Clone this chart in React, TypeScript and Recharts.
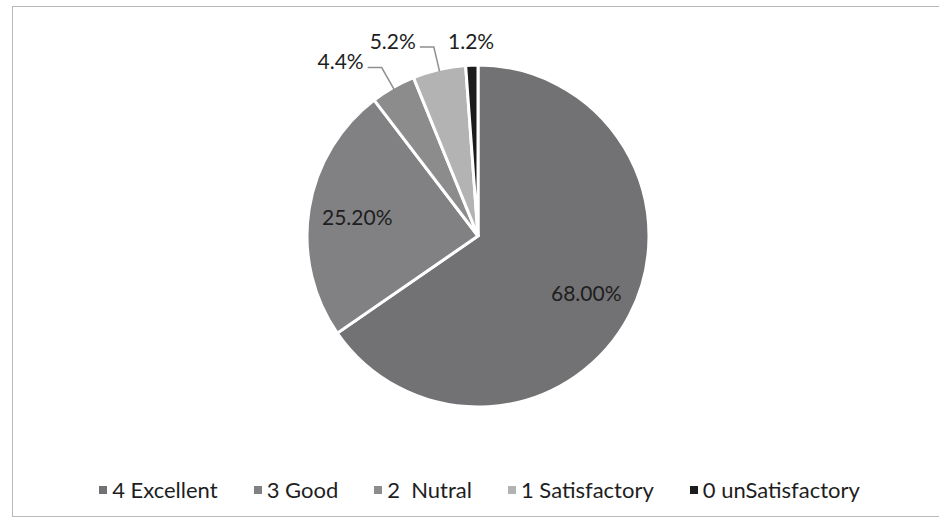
import React from 'react';
import { PieChart, Pie, Cell, Legend } from 'recharts';

const categories = ['4 Excellent', '3 Good', '2  Nutral', '1 Satisfactory', '0 unSatisfactory'];
const values = [68.0, 25.2, 4.4, 5.2, 1.2];
const valueLabels = ['68.00%', '25.20%', '4.4%', '5.2%', '1.2%'];
const colors = ['#727274', '#818183', '#8c8c8c', '#b3b3b3', '#1c1c1c'];
// label placement style per slice: inside / leader to the left / above without leader
const labelModes = ['inside', 'inside', 'leader', 'leader', 'above'];

const data = categories.map((name, i) => ({ name, value: values[i] }));

const RAD = Math.PI / 180;
const FONT = 'Lato, "Open Sans", sans-serif';

const renderLabel = (props: any) => {
  const { cx, cy, midAngle, outerRadius, index } = props;
  const mode = labelModes[index];
  const cos = Math.cos(-midAngle * RAD);
  const sin = Math.sin(-midAngle * RAD);
  const text = valueLabels[index];
  if (mode === 'inside') {
    const r = outerRadius * 0.715;
    return (
      <text x={cx + r * cos} y={cy + r * sin} textAnchor="middle" dominantBaseline="central"
        fill="#1e1e1e" fontSize={21} fontFamily={FONT}>{text}</text>
    );
  }
  if (mode === 'leader') {
    const sx = cx + (outerRadius - 2) * cos;
    const sy = cy + (outerRadius - 2) * sin;
    const ex = cx + (outerRadius + 23) * cos;
    const ey = cy + (outerRadius + 23) * sin;
    const hx = ex - 14;
    return (
      <g>
        <polyline points={`${sx},${sy} ${ex},${ey} ${hx},${ey}`} fill="none" stroke="#8f8f8f" strokeWidth={1.5} />
        <text x={hx - 4} y={ey - 7} textAnchor="end" dominantBaseline="central"
          fill="#1e1e1e" fontSize={21} fontFamily={FONT}>{text}</text>
      </g>
    );
  }
  const ax = cx + (outerRadius + 19) * cos;
  const ay = cy + (outerRadius + 19) * sin;
  return (
    <text x={ax} y={ay - 6} textAnchor="middle" dominantBaseline="central"
      fill="#1e1e1e" fontSize={21} fontFamily={FONT}>{text}</text>
  );
};

const renderLegend = () => (
  <div style={{ display: 'flex', justifyContent: 'center', alignItems: 'center', gap: 36, fontFamily: FONT, fontSize: 22, color: '#1e1e1e', paddingLeft: 20 }}>
    {categories.map((name, i) => (
      <div key={name} style={{ display: 'flex', alignItems: 'center', whiteSpace: 'pre' }}>
        <span style={{ display: 'inline-block', width: 8, height: 8, background: colors[i], marginRight: 5 }} />
        <span>{name}</span>
      </div>
    ))}
  </div>
);

export default function App() {
  return (
    <div style={{ position: 'absolute', left: 0, top: 0, width: 939, height: 527, background: '#fff', overflow: 'hidden' }}>
      <PieChart width={939} height={527} margin={{ top: 0, right: 0, bottom: 0, left: 0 }}>
        <Pie
          data={data}
          dataKey="value"
          nameKey="name"
          cx={478}
          cy={236}
          outerRadius={171}
          startAngle={90}
          endAngle={-270}
          stroke="#ffffff"
          strokeWidth={3}
          labelLine={false}
          label={renderLabel}
          isAnimationActive={false}
        >
          {data.map((d, i) => (
            <Cell key={d.name} fill={colors[i]} />
          ))}
        </Pie>
        <Legend content={renderLegend} wrapperStyle={{ left: 0, top: 476, width: 939 }} />
      </PieChart>
      <div style={{ position: 'absolute', left: 12, top: 6, width: 940, height: 509, border: '1px solid #b8b8b8', pointerEvents: 'none' }} />
    </div>
  );
}
